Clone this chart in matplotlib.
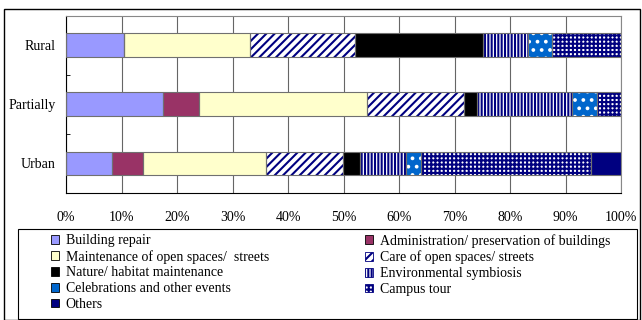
import matplotlib.pyplot as plt
from matplotlib.patches import Patch, Rectangle

plt.rcParams['font.family'] = ['Liberation Serif', 'DejaVu Serif']
plt.rcParams['font.size'] = 10
plt.rcParams['hatch.linewidth'] = 1.5

# stacked shares (%) per area type, bottom to top: Urban, Partially, Rural
categories = ['Urban', 'Partially', 'Rural']
building_repair = [8.2, 17.4, 10.4]
administration = [5.7, 6.6, 0.0]
maintenance = [22.2, 30.3, 22.8]
care = [13.8, 17.5, 18.8]
nature = [3.0, 2.2, 23.1]
environmental = [8.4, 17.2, 8.2]
celebrations = [2.7, 4.5, 4.3]
campus_tour = [30.6, 4.3, 12.4]
others = [5.4, 0.0, 0.0]

labels = ['Building repair', 'Administration/ preservation of buildings',
          'Maintenance of open spaces/  streets', 'Care of open spaces/ streets',
          'Nature/ habitat maintenance', 'Environmental symbiosis',
          'Celebrations and other events', 'Campus tour', 'Others']
series = [building_repair, administration, maintenance, care, nature,
          environmental, celebrations, campus_tour, others]

navy = '#000080'
# (facecolor, hatch, hatch colour)
styles = [
    ('#9999FF', None, '#9999FF'),
    ('#993366', None, '#993366'),
    ('#FFFFCC', None, '#FFFFCC'),
    ('white', '////', navy),
    ('black', None, 'black'),
    ('white', '|||||', navy),
    ('#0066CC', '..', 'white'),
    ('white', '++++', navy),
    (navy, None, navy),
]

fig = plt.figure(figsize=(6.42, 3.2), dpi=100)
ax = fig.add_axes([66 / 642, 1 - 193 / 320, 555 / 642, 177.5 / 320])

y = list(range(len(categories)))
left = [0.0] * len(categories)
for vals, (fc, hatch, hc) in zip(series, styles):
    ax.barh(y, vals, left=left, height=0.4, color=fc, hatch=hatch,
            edgecolor=hc, linewidth=0, zorder=2)
    ax.barh(y, vals, left=left, height=0.4, fill=False,
            edgecolor='#707070', linewidth=0.8, zorder=3)
    left = [a + b for a, b in zip(left, vals)]

ax.set_xlim(0, 100)
ax.set_ylim(-0.5, 2.5)
ax.set_xticks(range(0, 101, 10))
ax.set_xticklabels([f'{v}%' for v in range(0, 101, 10)])
ax.set_yticks(y)
ax.set_yticklabels(categories)
ax.set_yticks([-0.5, 0.5, 1.5, 2.5], minor=True)
ax.tick_params(axis='x', length=0, pad=13)
ax.tick_params(axis='y', which='major', length=0, pad=7.5)
ax.tick_params(axis='y', which='minor', length=3, direction='in', color='black')
ax.grid(axis='x', color='#666666', linewidth=0.8, zorder=0)
ax.set_axisbelow(True)
for side in ['top', 'right']:
    ax.spines[side].set_color('#888888')
for side in ['bottom', 'left']:
    ax.spines[side].set_color('black')
for s in ax.spines.values():
    s.set_linewidth(0.8)

# legend, laid out row-wise in two columns
handles = []
for fc, h, hc in styles:
    if h and hc == 'white':
        handles.append(Patch(facecolor=fc, edgecolor='black', linewidth=0.6))
    else:
        handles.append(Patch(facecolor=fc, hatch=h, edgecolor=hc if h else 'black', linewidth=0.6))
legend_kw = dict(loc='upper left', frameon=False, borderpad=0, borderaxespad=0,
                 handlelength=0.6, handleheight=0.6, handletextpad=0.45,
                 labelspacing=0.2, fontsize=10)
fig.legend(handles[0::2], labels[0::2], bbox_to_anchor=(51 / 642, 1 - 234 / 320), **legend_kw)
fig.legend(handles[1::2], labels[1::2], bbox_to_anchor=(365 / 642, 1 - 234 / 320), **legend_kw)
fig.patches.append(Rectangle((17.7 / 642, 1 - 318.5 / 320), (637 - 17.7) / 642, (318.5 - 229) / 320,
                             transform=fig.transFigure, fill=False, edgecolor='black', linewidth=0.8))

# outer frame
fig.patches.append(Rectangle((4 / 642, 0.5 / 320), 636 / 642, 310.5 / 320,
                             transform=fig.transFigure, fill=False, edgecolor='black', linewidth=1.0))

fig.savefig('out.png', dpi=100)
